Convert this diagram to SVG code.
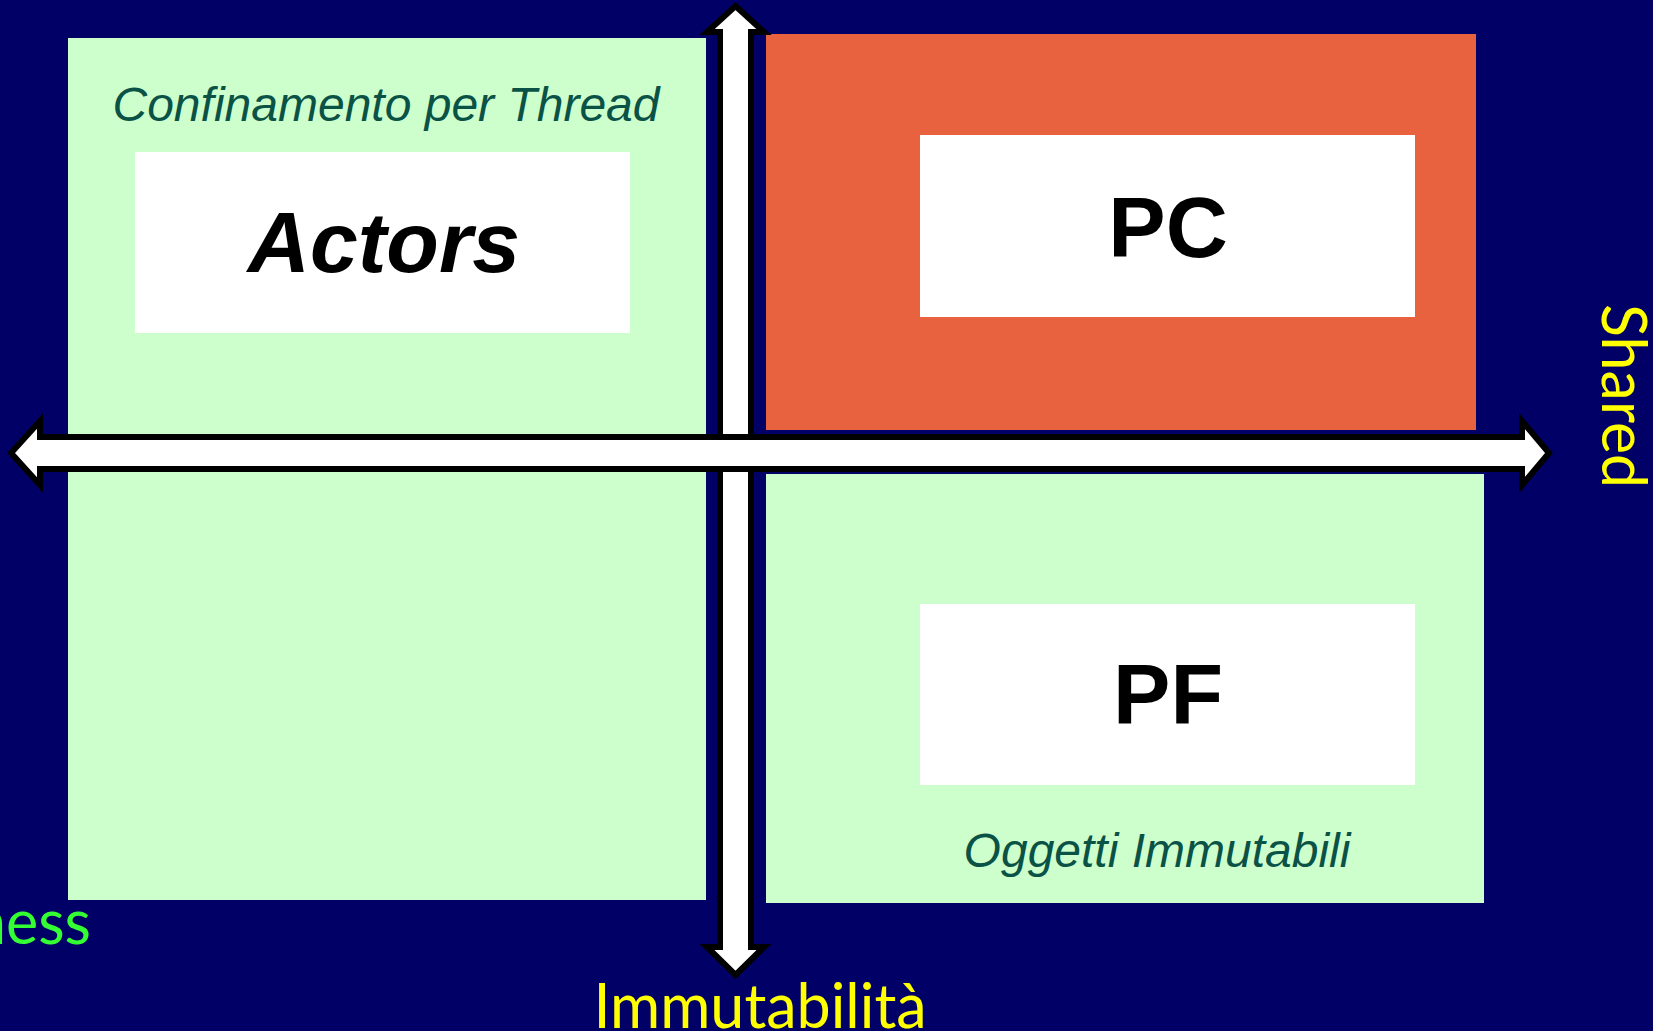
<svg xmlns="http://www.w3.org/2000/svg" width="1653" height="1031" viewBox="0 0 1653 1031">
<style>
.quad-green{fill:#CCFFCC}
.quad-red{fill:#E9623F}
.box{fill:#FFFFFF}
.big{font-family:"Liberation Sans",Arial,sans-serif;font-weight:bold;font-size:86px;fill:#000000;text-anchor:middle}
.cap{font-family:"Liberation Sans",Arial,sans-serif;font-style:italic;font-size:48px;fill:#0A5246;text-anchor:middle}
.axis{font-family:Lato,"Open Sans",sans-serif;font-size:61px}
.arrow{fill:#FFFFFF;stroke:#000000;stroke-width:6;stroke-linejoin:miter;stroke-miterlimit:10}
</style>
<rect x="0" y="0" width="1653" height="1031" fill="#000066"/>
<g id="quadrant-left">
<rect class="quad-green" x="68" y="38" width="638" height="862"/>
<text class="cap" x="386" y="121">Confinamento per Thread</text>
</g>
<g id="node-actors">
<rect class="box" x="135" y="152" width="495" height="181"/>
<text class="big" x="384" y="272" font-style="italic">Actors</text>
</g>
<g id="quadrant-pc">
<rect class="quad-red" x="766" y="34" width="710" height="396"/>
</g>
<g id="node-pc">
<rect class="box" x="920" y="135" width="495" height="182"/>
<text class="big" x="1168" y="257">PC</text>
</g>
<g id="quadrant-pf">
<rect class="quad-green" x="766" y="474" width="718" height="429"/>
<text class="cap" x="1157" y="867">Oggetti Immutabili</text>
</g>
<g id="node-pf">
<rect class="box" x="920" y="604" width="495" height="181"/>
<text class="big" x="1168" y="724">PF</text>
</g>
<g id="connectors">
<path class="arrow" d="M735.5,6 L764,32 L751,32 L751,947 L764,947 L735.5,975 L707,947 L720,947 L720,32 L707,32 Z"/>
<path class="arrow" d="M11,453 L40,421 L40,437 L1522,437 L1522,421 L1549,453 L1522,485 L1522,469 L40,469 L40,485 Z"/>
</g>
<g id="labels">
<text class="axis" x="91" y="944" text-anchor="end" fill="#33FF33" font-size="59">ness</text>
<text class="axis" x="760" y="1028" text-anchor="middle" fill="#FFFF00">Immutabilità</text>
<text class="axis" transform="translate(1602,304) rotate(90)" fill="#FFFF00" font-size="59">Shared</text>
</g>
</svg>
